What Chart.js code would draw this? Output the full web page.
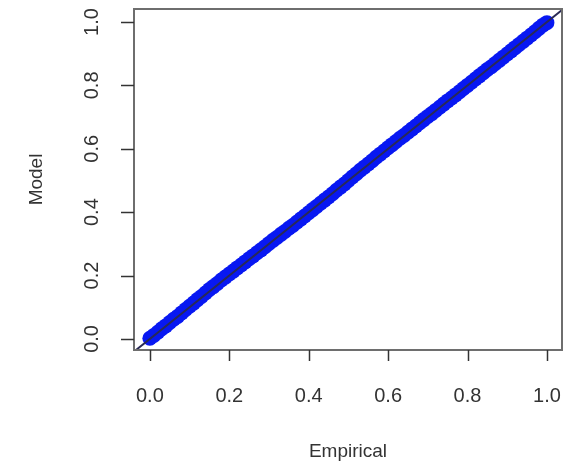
<!DOCTYPE html>
<html lang="en">
<head>
<meta charset="UTF-8">
<title>PP plot</title>
<script src="https://cdn.jsdelivr.net/npm/chart.js"></script>
<style>
  html, body { margin: 0; padding: 0; background: #fff; }
  #wrap { width: 576px; height: 466px; position: relative; }
</style>
</head>
<body>
<div id="wrap"><canvas id="grafico"></canvas></div>
<script>
// empirical vs model probabilities
const empirical = [
  0.00, 0.01, 0.02, 0.03, 0.04, 0.05, 0.06, 0.07, 0.08, 0.09,
  0.10, 0.11, 0.12, 0.13, 0.14, 0.15, 0.16, 0.17, 0.18, 0.19,
  0.20, 0.21, 0.22, 0.23, 0.24, 0.25, 0.26, 0.27, 0.28, 0.29,
  0.30, 0.31, 0.32, 0.33, 0.34, 0.35, 0.36, 0.37, 0.38, 0.39,
  0.40, 0.41, 0.42, 0.43, 0.44, 0.45, 0.46, 0.47, 0.48, 0.49,
  0.50, 0.51, 0.52, 0.53, 0.54, 0.55, 0.56, 0.57, 0.58, 0.59,
  0.60, 0.61, 0.62, 0.63, 0.64, 0.65, 0.66, 0.67, 0.68, 0.69,
  0.70, 0.71, 0.72, 0.73, 0.74, 0.75, 0.76, 0.77, 0.78, 0.79,
  0.80, 0.81, 0.82, 0.83, 0.84, 0.85, 0.86, 0.87, 0.88, 0.89,
  0.90, 0.91, 0.92, 0.93, 0.94, 0.95, 0.96, 0.97, 0.98, 0.99,
  1.00
];
const model = [
  0.002, 0.011, 0.021, 0.032, 0.041, 0.052, 0.062, 0.071, 0.082, 0.093,
  0.103, 0.113, 0.124, 0.134, 0.145, 0.156, 0.165, 0.175, 0.186, 0.195,
  0.205, 0.214, 0.224, 0.233, 0.243, 0.253, 0.262, 0.272, 0.281, 0.291,
  0.301, 0.311, 0.320, 0.330, 0.339, 0.349, 0.358, 0.368, 0.378, 0.388,
  0.398, 0.408, 0.418, 0.428, 0.438, 0.448, 0.458, 0.469, 0.479, 0.489,
  0.500, 0.511, 0.521, 0.532, 0.542, 0.552, 0.562, 0.573, 0.583, 0.593,
  0.603, 0.613, 0.623, 0.633, 0.642, 0.652, 0.662, 0.672, 0.682, 0.692,
  0.702, 0.711, 0.721, 0.731, 0.741, 0.751, 0.760, 0.770, 0.780, 0.790,
  0.800, 0.810, 0.820, 0.830, 0.840, 0.850, 0.859, 0.869, 0.879, 0.889,
  0.899, 0.909, 0.919, 0.929, 0.939, 0.949, 0.959, 0.969, 0.980, 0.990,
  0.998
];
const xTicks = [0.0, 0.2, 0.4, 0.6, 0.8, 1.0];
const yTicks = [0.0, 0.2, 0.4, 0.6, 0.8, 1.0];
const xTitle = 'Empirical';
const yTitle = 'Model';

const puntos = empirical.map((e, i) => ({ x: e, y: model[i] }));

const fonte = '20px "Liberation Sans", Arial, sans-serif';
const corTexto = '#333';

// box, ticks, labels and the y = x line, drawn R-style
const rPlot = {
  id: 'rPlot',
  afterDatasetsDraw(chart) {
    const ctx = chart.ctx;
    const area = chart.chartArea;
    const sx = chart.scales.x;
    const sy = chart.scales.y;

    // abline(0, 1)
    ctx.save();
    ctx.beginPath();
    ctx.rect(area.left, area.top, area.right - area.left, area.bottom - area.top);
    ctx.clip();
    const lo = Math.max(sx.min, sy.min);
    const hi = Math.min(sx.max, sy.max);
    ctx.strokeStyle = '#2a2a55';
    ctx.lineWidth = 2;
    ctx.beginPath();
    ctx.moveTo(sx.getPixelForValue(lo), sy.getPixelForValue(lo));
    ctx.lineTo(sx.getPixelForValue(hi), sy.getPixelForValue(hi));
    ctx.stroke();
    ctx.restore();

    ctx.save();
    // box
    ctx.strokeStyle = '#6e6e6e';
    ctx.lineWidth = 2;
    ctx.strokeRect(area.left, area.top, area.right - area.left, area.bottom - area.top);

    // ticks
    ctx.strokeStyle = '#333';
    ctx.lineWidth = 1.5;
    xTicks.forEach(v => {
      const px = Math.round(sx.getPixelForValue(v)) + 0.5;
      ctx.beginPath();
      ctx.moveTo(px, area.bottom);
      ctx.lineTo(px, area.bottom + 11);
      ctx.stroke();
    });
    yTicks.forEach(v => {
      const py = Math.round(sy.getPixelForValue(v)) + 0.5;
      ctx.beginPath();
      ctx.moveTo(area.left, py);
      ctx.lineTo(area.left - 13, py);
      ctx.stroke();
    });

    // tick labels
    ctx.fillStyle = corTexto;
    ctx.font = fonte;
    ctx.textAlign = 'center';
    ctx.textBaseline = 'middle';
    xTicks.forEach(v => {
      ctx.fillText(v.toFixed(1), sx.getPixelForValue(v), 396);
    });
    yTicks.forEach(v => {
      ctx.save();
      ctx.translate(92, sy.getPixelForValue(v));
      ctx.rotate(-Math.PI / 2);
      ctx.fillText(v.toFixed(1), 0, 0);
      ctx.restore();
    });

    // axis titles
    ctx.font = '19px "Liberation Sans", Arial, sans-serif';
    ctx.fillText(xTitle, (area.left + area.right) / 2, 452);
    ctx.save();
    ctx.translate(37, (area.top + area.bottom) / 2);
    ctx.rotate(-Math.PI / 2);
    ctx.fillText(yTitle, 0, 0);
    ctx.restore();
    ctx.restore();
  }
};

new Chart(document.getElementById('grafico'), {
  type: 'scatter',
  data: {
    datasets: [{
      data: puntos,
      backgroundColor: '#0818f2',
      borderWidth: 0,
      pointRadius: 7.5,
      pointHoverRadius: 7.5
    }]
  },
  options: {
    responsive: true,
    maintainAspectRatio: false,
    animation: false,
    events: [],
    layout: {
      padding: { left: 134, top: 9, right: 14, bottom: 116 }
    },
    plugins: {
      legend: { display: false },
      tooltip: { enabled: false }
    },
    scales: {
      x: { type: 'linear', display: false, min: -0.04, max: 1.038 },
      y: { type: 'linear', display: false, min: -0.035, max: 1.041 }
    }
  },
  plugins: [rPlot]
});
</script>
</body>
</html>
